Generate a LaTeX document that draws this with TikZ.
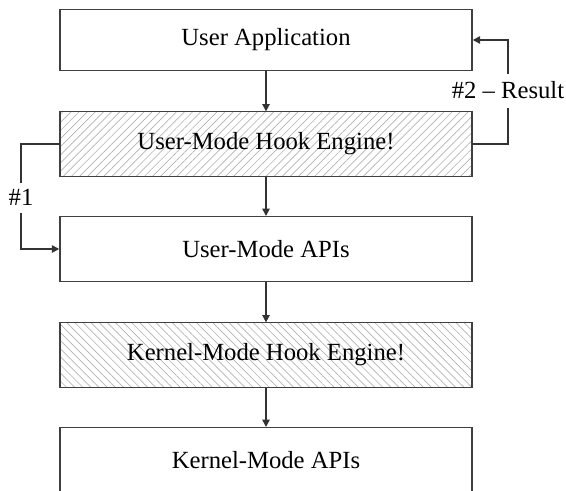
\documentclass[tikz,border=0pt]{standalone}
\usepackage{fontspec}
\setmainfont{Liberation Serif}
\usetikzlibrary{arrows.meta,patterns.meta}
\begin{document}
\begin{tikzpicture}[x=0.75pt,y=-0.75pt,
  box/.style={draw=black!75, line width=1.1pt, minimum width=309pt, minimum height=48.4pt, inner sep=0pt, font=\fontsize{18.5}{22}\selectfont},
  hatchR/.style={pattern={Lines[angle=45,distance=4.3pt,line width=0.5pt]}, pattern color=black!30},
  hatchL/.style={pattern={Lines[angle=-45,distance=4.3pt,line width=0.5pt]}, pattern color=black!30},
  conn/.style={draw=black!80, line width=1.1pt},
  arr/.style={conn, -{Triangle[length=5.5pt,width=5.5pt]}},
  lbl/.style={font=\fontsize{18.5}{22}\selectfont, inner xsep=1pt, text height=12pt, text depth=0pt}
]
\useasboundingbox (0,0) rectangle (566,491);
\node[box, minimum height=46pt] (b1) at (266,40) {User Application};
\node[box, hatchR] (b2) at (266,144) {User-Mode Hook Engine!};
\node[box] (b3) at (266,249) {User-Mode APIs};
\node[box, hatchL] (b4) at (266,355) {Kernel-Mode Hook Engine!};
\node[box] (b5) at (266,460) {Kernel-Mode APIs};
\node[lbl, inner ysep=5.25pt] (l1) at (21,198) {\#1};
\node[lbl, inner ysep=6.75pt] (l2) at (508,91) {\#2 -- Result};
\draw[arr] (b1) -- (b2);
\draw[arr] (b2) -- (b3);
\draw[arr] (b3) -- (b4);
\draw[arr] (b4) -- (b5);
\draw[conn] (b2.west) -| (l1.north);
\draw[arr] (l1.south) |- (b3.west);
\draw[conn] (b2.east) -| (l2.south);
\draw[arr] (l2.north) |- (b1.east);
\end{tikzpicture}
\end{document}
